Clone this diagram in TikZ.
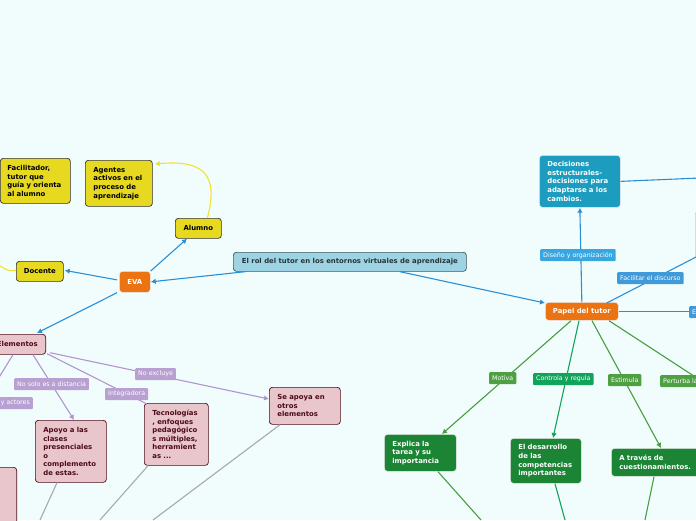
\documentclass[tikz,border=0pt]{standalone}
\usepackage{fontspec}
\setmainfont{DejaVu Sans}
\usepackage{tikz}
\usetikzlibrary{calc,arrows.meta}
\hyphenpenalty=10000

\definecolor{bgcol}{HTML}{F1FDFC}
\definecolor{yelfill}{HTML}{E6D91F}
\definecolor{rootfill}{HTML}{9DD3E3}
\definecolor{orangefill}{HTML}{EB7311}
\definecolor{tealfill}{HTML}{1C9CBF}
\definecolor{pinkfill}{HTML}{E8C6CB}
\definecolor{pinktext}{HTML}{4D0A18}
\definecolor{greenfill}{HTML}{1B8535}
\definecolor{linkblue}{HTML}{2B8FD6}
\definecolor{labblue}{HTML}{3AA6E0}
\definecolor{linkpurple}{HTML}{B393D0}
\definecolor{labpurple}{HTML}{B8A0D2}
\definecolor{linkgray}{HTML}{A9A9A9}
\definecolor{linkgreen}{HTML}{479E3F}
\definecolor{labgreen}{HTML}{4FA043}
\definecolor{brightgreen}{HTML}{10A35A}
\definecolor{linkyellow}{HTML}{F4E12A}

\def\drawblue{\draw[color=linkblue, line width=1.1pt]}
\def\drawpurple{\draw[color=linkpurple, line width=1.1pt]}
\def\drawgreen{\draw[color=linkgreen, line width=1.1pt]}
\def\drawgray{\draw[color=linkgray, line width=1.1pt]}
\def\tip{-{Latex[length=5pt,width=5.5pt]}}

\begin{document}
\begin{tikzpicture}[x=1pt,y=-1pt,inner sep=0pt,
  topic/.style={draw=#1, rounded corners=3pt, line width=0.7pt, anchor=north west,
    font=\bfseries\fontsize{6.9}{8.6}\selectfont, align=left, inner xsep=8pt},
  yel/.style={topic=black!80, fill=yelfill, text=black},
  pink/.style={topic=pinktext, fill=pinkfill, text=pinktext},
  grn/.style={topic=white!85!gray, fill=greenfill, text=white},
  lab/.style={fill=#1, text=white, rounded corners=1pt, anchor=north west,
    font=\fontsize{6.3}{7}\selectfont, inner xsep=3pt, minimum height=12pt}]

\fill[bgcol] (0,0) rectangle (696,520);
\useasboundingbox (0,0) rectangle (696,520);
\clip (0,0) rectangle (696,520);

% -------- nodes ---------
\node[topic=black!60!rootfill, fill=rootfill, text=black!75!rootfill, minimum width=233pt, minimum height=19pt, align=center, inner xsep=0pt] (root) at (233,252) {El rol del tutor en los entornos virtuales de aprendizaje};
\node[topic=white!85!gray, fill=orangefill, text=white, minimum width=31pt, minimum height=21pt, align=center, inner xsep=0pt] (eva) at (119,271) {EVA};
\node[yel, minimum width=46pt, minimum height=20pt, align=center, inner xsep=0pt] (alumno) at (175,218) {Alumno};
\node[yel, minimum width=47pt, minimum height=20pt, align=center, inner xsep=0pt] (docente) at (16,261) {Docente};
\node[yel, text width=51pt, minimum height=46pt] (agentes) at (85,160) {Agentes\\activos en el\\proceso de\\aprendizaje};
\node[yel, text width=62pt, inner xsep=4pt, minimum height=45pt] (facil) at (0,158) {\hspace*{3pt}Facilitador,\\\hspace*{3pt}tutor que\\\hspace*{3pt}guía y orienta\\\hspace*{3pt}al alumno};

% pink side
\node[pink, anchor=north east, minimum height=20pt] (elementos) at (46,334) {Elementos};
\node[pink, text width=55pt, minimum height=62pt] (apoyo) at (35,420) {Apoyo a las\\clases\\presenciales\\o\\complemento\\de estas.};
\node[pink, text width=48pt, minimum height=62pt] (tecno) at (144,403) {Tecnologías\\, enfoques\\pedagógico\\s múltiples,\\herramient\\as ...};
\node[pink, text width=55pt, minimum height=37pt] (seapoya) at (269,387) {Se apoya en\\otros\\elementos};
\node[pink, anchor=north east, minimum width=60pt, minimum height=62pt] (pinkcut) at (17,467) {};

% tutor side
\node[topic=white!85!gray, fill=orangefill, text=white, minimum width=73pt, minimum height=18pt, align=center, inner xsep=0pt] (papel) at (545,302) {Papel del tutor};
\node[topic=white!85!gray, fill=tealfill, text=white, text width=65pt, minimum height=52pt] (decisiones) at (539,155) {Decisiones\\estructurales-\\decisiones para\\adaptarse a los\\cambios.};
\node[topic=gray!40, fill=bgcol, minimum width=40pt, minimum height=47pt] (bluecut) at (695,211) {};
\node[grn, text width=56pt, minimum height=37pt] (explica) at (384,434) {Explica la\\tarea y su\\importancia};
\node[grn, text width=55pt, minimum height=45pt] (desarrollo) at (510,438) {El desarrollo\\de las\\competencias\\importantes};
\node[grn, text width=79pt, minimum height=28pt] (atraves) at (611,448) {A través de\\cuestionamientos.};

% free ends
\coordinate (offdoc) at (-12,261);
\coordinate (offactores) at (-10,392);
\coordinate (offdec) at (700,178);
\coordinate (offfacil) at (700,255);
\coordinate (offpert) at (700,380);
\coordinate (offapoyo) at (40,520);
\coordinate (offtecno) at (100,520);
\coordinate (offse) at (153,520);
\coordinate (offexp) at (481,520);
\coordinate (offdes) at (565,520);
\coordinate (offatr) at (645,520);

% -------- links ---------
\drawblue[\tip] ($ (root.south west) + (12,0) $) to (eva.east);
\drawblue[\tip] ($ (root.south west) + (167,0) $) to ($ (papel.north west) + (0,1) $);
\drawblue[\tip] (eva.north east) to ($ (alumno.south west) + (12,0) $);
\drawblue[\tip] ($ (eva.west) + (-2,-2) $) to ($ (docente.east) + (1,-1) $);
\drawblue[\tip] ($ (eva.south west) + (-2,0) $) to ($ (elementos.north east) + (-9,-1) $);
\draw[color=linkyellow, line width=1.1pt, \tip, out=75, in=5, looseness=1.6] ($ (alumno.north) + (9,0) $) to ($ (agentes.north east) + (2,4) $);
\draw[color=linkyellow, line width=1.1pt, out=195, in=-5] ($ (docente.west) + (0,-1) $) to (offdoc);

% elementos
\drawpurple[\tip] ($ (elementos.south east) + (4,-2) $) to ($ (seapoya.north west) + (0,12) $);
\drawpurple ($ (elementos.south east) + (1,-1) $) to ($ (tecno.north west) + (3,1) $);
\drawpurple[\tip] ($ (elementos.south east) + (-13,0) $) to ($ (apoyo.north west) + (39,0) $);
\drawpurple ($ (elementos.south east) + (-33,0) $) to (offactores);
\node[lab=labpurple] (noexcluye) at (135,368) {No excluye};
\node[lab=labpurple] (integradora) at (105,388) {Integradora};
\node[lab=labpurple] (nosolo) at (14,378) {No solo es a distancia};
\node[lab=labpurple, anchor=north east] (actores) at (33,397) {y actores};
\drawgray ($ (apoyo.south west) + (22,0) $) to (offapoyo);
\drawgray ($ (tecno.south west) + (4,0) $) to (offtecno);
\drawgray ($ (seapoya.south west) + (11,0) $) to (offse);

% papel del tutor
\drawblue[\tip] ($ (papel.north) + (0,0) $) to (decisiones.south);
\drawblue (decisiones.east) to (offdec);
\drawblue ($ (papel.north east) + (-12,1) $) to (offfacil);
\drawblue (papel.east) to ($ (papel.east) + (80,0) $);
\node[lab=labblue] (diseno) at (540,249) {Diseño y organización};
\node[lab=linkblue!90!white] (facilitar) at (617,272) {Facilitar el discurso};
\node[lab=linkblue!90!white] (elab) at (689,306) {E};
\drawgreen[\tip] ($ (papel.south west) + (26,0) $) to ($ (explica.north west) + (58,0) $);
\draw[color=brightgreen, line width=1.1pt, \tip] ($ (papel.south west) + (34,0) $) to ($ (desarrollo.north west) + (43,0) $);
\drawgreen[\tip] ($ (papel.south west) + (47,0) $) to ($ (atraves.north west) + (50,0) $);
\drawgreen ($ (papel.south west) + (64,0) $) to (offpert);
\node[lab=labgreen] (motiva) at (489,372) {Motiva};
\node[lab=brightgreen] (controla) at (533,373) {Controla y regula};
\node[lab=labgreen] (estimula) at (608,374) {Estimula};
\node[lab=labgreen] (perturba) at (660,375) {Perturba la};
\drawgreen ($ (explica.south west) + (54,0) $) to (offexp);
\draw[color=brightgreen, line width=1.1pt] ($ (desarrollo.south west) + (45,0) $) to (offdes);
\drawgreen ($ (atraves.south west) + (43,0) $) to (offatr);
\end{tikzpicture}
\end{document}
